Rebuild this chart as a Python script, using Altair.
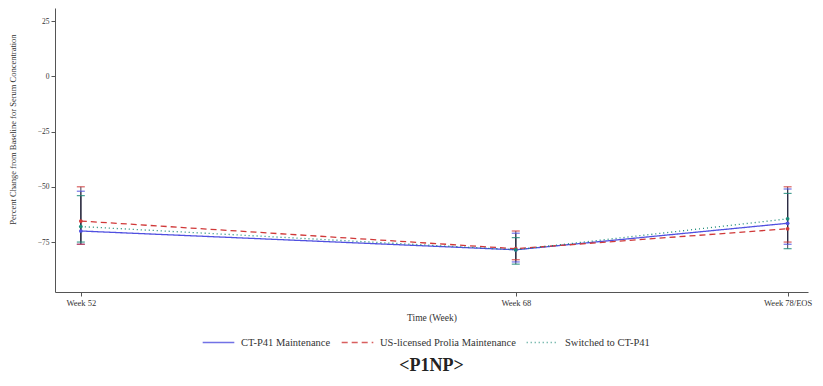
import altair as alt
import pandas as pd

weeks = [52, 68, 78]
week_labels = ["Week 52", "Week 68", "Week 78/EOS"]
series = ["CT-P41 Maintenance", "US-licensed Prolia Maintenance", "Switched to CT-P41"]
colors = ["#5050e0", "#d03838", "#1a8a78"]
dashes = [[1, 0], [6, 4], [1, 3]]

mean_ct = [-70.0, -78.5, -66.5]
low_ct = [-76.0, -84.0, -76.0]
high_ct = [-52.0, -71.0, -51.0]

mean_us = [-65.5, -78.0, -69.0]
low_us = [-76.0, -83.0, -75.0]
high_us = [-50.0, -70.0, -50.0]

mean_sw = [-68.0, -78.5, -64.5]
low_sw = [-75.0, -85.0, -78.0]
high_sw = [-54.0, -73.0, -53.0]

rows = []
for s, m, lo, hi in zip(series, [mean_ct, mean_us, mean_sw], [low_ct, low_us, low_sw], [high_ct, high_us, high_sw]):
    for w, a, b, c in zip(weeks, m, lo, hi):
        rows.append({"Series": s, "Week": w, "Mean": a, "Low": b, "High": c})
df = pd.DataFrame(rows)

FONT = "Liberation Serif"

x = alt.X("Week:Q",
          scale=alt.Scale(domain=[51.05, 78.75], nice=False, zero=False),
          axis=alt.Axis(values=weeks,
                        labelExpr="datum.value == 52 ? 'Week 52' : datum.value == 68 ? 'Week 68' : 'Week 78/EOS'",
                        title="Time (Week)", grid=False, tickSize=4,
                        labelFontSize=8.5, titleFontSize=9.5, titlePadding=6,
                        labelFont=FONT, titleFont=FONT, titleFontWeight="normal",
                        domainColor="#555", tickColor="#555", labelColor="#333", titleColor="#333"))
yscale = alt.Scale(domain=[-97.6, 30.9], nice=False, zero=False)
y = alt.Y("Mean:Q", scale=yscale,
          axis=alt.Axis(values=[-75, -50, -25, 0, 25], grid=False, tickSize=4,
                        title="Percent Change from Baseline for Serum Concentration",
                        labelFontSize=7.5, titleFontSize=8.5, titlePadding=20, titleY=121,
                        labelFont=FONT, titleFont=FONT, titleFontWeight="normal",
                        domainColor="#555", tickColor="#555", labelColor="#333", titleColor="#333"))

legend = alt.Legend(title=None, orient="none", legendX=147, legendY=318, direction="horizontal",
                    symbolType="stroke", symbolSize=1000, symbolStrokeWidth=1.3,
                    labelFont=FONT, labelFontSize=10.5, labelColor="#333",
                    columnPadding=8, labelOffset=6)
cscale = alt.Scale(domain=series, range=colors)
color = alt.Color("Series:N", scale=cscale, legend=legend)
color_plain = alt.Color("Series:N", scale=cscale)
dash = alt.StrokeDash("Series:N", scale=alt.Scale(domain=series, range=dashes), legend=legend)

base = alt.Chart(df)

lines = base.mark_line(strokeWidth=1.3).encode(x=x, y=y, color=color, strokeDash=dash)
points = base.mark_point(filled=True, size=14, opacity=1).encode(x=x, y=y, color=color_plain)
rules = base.mark_rule(strokeWidth=1.2, opacity=0.75).encode(
    x="Week:Q", y=alt.Y("Low:Q", scale=yscale), y2="High:Q",
    color=alt.value("#2a2a40"))
caps_hi = base.mark_tick(orient="horizontal", size=8, thickness=1.2, opacity=0.8).encode(
    x="Week:Q", y=alt.Y("High:Q", scale=yscale), color=color_plain)
caps_lo = base.mark_tick(orient="horizontal", size=8, thickness=1.2, opacity=0.8).encode(
    x="Week:Q", y=alt.Y("Low:Q", scale=yscale), color=color_plain)

chart = alt.layer(rules, caps_hi, caps_lo, lines, points).properties(
    width=753, height=284,
    title=alt.TitleParams("<P1NP>", orient="bottom", anchor="middle", font=FONT,
                          fontSize=18, fontWeight="bold", color="#222", offset=9),
    autosize=alt.AutoSizeParams(type="none"),
    padding={"left": 47, "top": 0, "right": 7, "bottom": 86},
).configure(background="white").configure_view(stroke=None)

chart.save("out.html", embed_options={"renderer": "svg", "actions": False})
